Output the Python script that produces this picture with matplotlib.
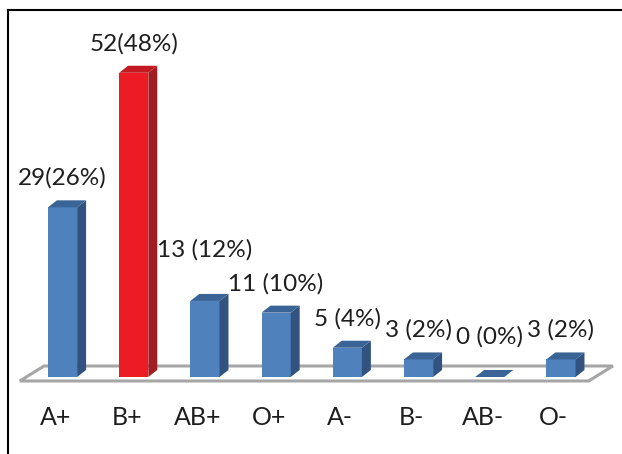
import matplotlib.pyplot as plt
from matplotlib.patches import Polygon, Rectangle
from matplotlib.lines import Line2D

plt.rcParams['font.family'] = ['Lato', 'DejaVu Sans']

# Blood group counts and share of the sample
groups = ['A+', 'B+', 'AB+', 'O+', 'A-', 'B-', 'AB-', 'O-']
counts = [29, 52, 13, 11, 5, 3, 0, 3]
percents = [26, 48, 12, 10, 4, 2, 0, 2]
labels = ['29(26%)', '52(48%)', '13 (12%)', '11 (10%)', '5 (4%)', '3 (2%)', '0 (0%)', '3 (2%)']

highlight = 'B+'

# faces of the pseudo-3D bars
blue = {'front': '#4f81bd', 'side': '#32527f', 'top': '#3b6496'}
red = {'front': '#ed1c24', 'side': '#a11d21', 'top': '#c21a20'}

fig = plt.figure(figsize=(6.22, 4.54), dpi=100)
ax = fig.add_axes([0, 0, 1, 1])
ax.set_xlim(-0.878, 7.858)
ax.set_ylim(-13.16, 64.44)
ax.axis('off')

w = 0.41      # bar width in category units
dx = 0.126    # depth offset, x
dy = 1.2      # depth offset, y
n = len(groups)

# floor of the plot area
floor = Polygon([(-0.6, -0.68), (n - 1 + 0.39, -0.68),
                 (n - 1 + 0.73, 1.88), (-0.26, 1.88)],
                closed=True, facecolor='white', edgecolor='#a6a6a6',
                lw=2.2, zorder=1)
ax.add_patch(floor)

for i, (g, v) in enumerate(zip(groups, counts)):
    c = red if g == highlight else blue
    l, r = i - w / 2, i + w / 2
    if v > 0:
        ax.add_patch(Rectangle((l, 0), w, v, facecolor=c['front'],
                               edgecolor='none', zorder=3))
        ax.add_patch(Polygon([(r, 0), (r + dx, dy), (r + dx, v + dy), (r, v)],
                             facecolor=c['side'], edgecolor='none', zorder=3))
    ax.add_patch(Polygon([(l, v), (r, v), (r + dx, v + dy), (l + dx, v + dy)],
                         facecolor=c['top'], edgecolor='none', zorder=3))

# value labels
offsets = [16, 16, 32, 16, 16, 16, 24, 16]
for i, (v, lab) in enumerate(zip(counts, labels)):
    ax.annotate(lab, (i, v + dy), xytext=(0, offsets[i]),
                textcoords='offset points', ha='center', va='center',
                fontsize=17.5, color='#1e1e1e')

# category labels
for i, g in enumerate(groups):
    ax.text(i - 0.1, -6.84, g, ha='center', va='center',
            fontsize=18, color='#1e1e1e')

# outer frame, cut by the image edge on the right and bottom
fig.add_artist(Line2D([0.0129, 0.0129], [0, 0.978], color='black', lw=1.5))
fig.add_artist(Line2D([0.0129, 1.0], [0.978, 0.978], color='black', lw=1.5))

fig.savefig('out.png', dpi=100)
